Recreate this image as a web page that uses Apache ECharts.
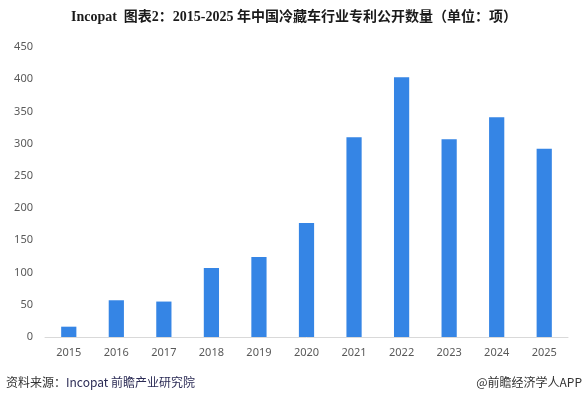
<!DOCTYPE html>
<html><head><meta charset="utf-8">
<script src="https://cdn.jsdelivr.net/npm/echarts@6/dist/echarts.min.js"></script>
<style>html,body{margin:0;padding:0;background:#fff;}#c{width:588px;height:395px;}</style>
</head><body><div id="c"></div>
<script>
var categories = ['2015','2016','2017','2018','2019','2020','2021','2022','2023','2024','2025'];
var patents = [16, 57, 55, 107, 124, 177, 310, 403, 307, 341, 292];
var yTicks = [0, 50, 100, 150, 200, 250, 300, 350, 400, 450];
var titleText = 'Incopat  图表2：2015-2025 年中国冷藏车行业专利公开数量（单位：项）';
var sourceLabel = '资料来源：';
var sourceText = 'Incopat 前瞻产业研究院';
var credit = '@前瞻经济学人APP';

var chart = echarts.init(document.getElementById('c'), null, {renderer: 'canvas'});
chart.setOption({
  animation: false,
  backgroundColor: '#fff',
  title: {
    text: titleText, left: 'center', top: 5,
    textStyle: {fontFamily: '"Liberation Serif","Noto Sans CJK SC",serif', fontWeight: 'bold', fontSize: 14, color: '#1a1a1a'}
  },
  graphic: [
    {type: 'text', left: 6, top: 376, style: {text: sourceLabel, font: '12px "Noto Sans CJK SC", sans-serif', fill: '#333'}},
    {type: 'text', left: 66, top: 376, style: {text: sourceText, font: '12px "Noto Sans CJK SC", sans-serif', fill: '#2b2b55'}},
    {type: 'text', right: 6, top: 376, style: {text: credit, font: '12px "Noto Sans CJK SC", sans-serif', fill: '#333'}}
  ],
  grid: {left: 45, right: 20, top: 47, bottom: 58},
  xAxis: {
    type: 'category', data: categories,
    axisLine: {lineStyle: {color: '#d9d9d9', width: 1}},
    axisTick: {show: false},
    axisLabel: {color: '#595959', fontSize: 11, fontFamily: '"Noto Sans", sans-serif', margin: 10}
  },
  yAxis: {
    type: 'value', min: yTicks[0], max: yTicks[yTicks.length-1], interval: 50,
    axisLine: {show: false}, axisTick: {show: false},
    splitLine: {show: false},
    axisLabel: {color: '#595959', fontSize: 11, fontFamily: '"Noto Sans", sans-serif', margin: 12}
  },
  series: [{
    type: 'bar', data: patents, barWidth: '32%',
    itemStyle: {color: '#3585e5'}
  }]
});
</script></body></html>
